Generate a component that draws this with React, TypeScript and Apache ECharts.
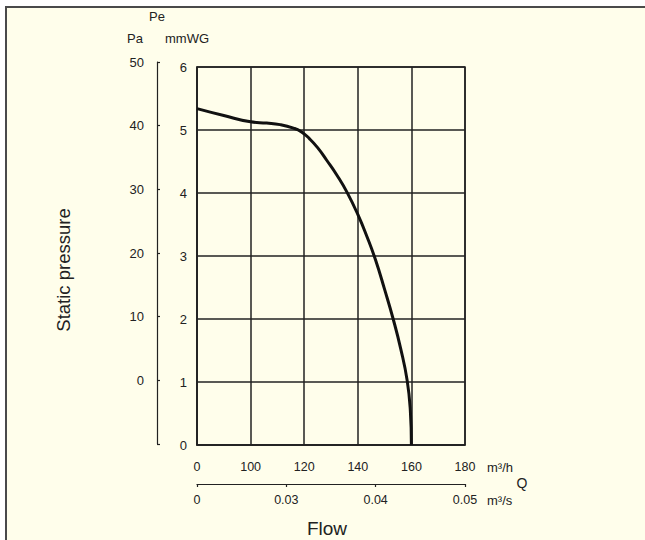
import React, { useEffect, useRef } from "react";
import * as echarts from "echarts";

// Flow positions in grid-column units (0..5 → 0,100,120,140,160,180 m³/h)
const flowTickLabels = ["0", "100", "120", "140", "160", "180"];
const flowSecTickLabels = ["0", "0.03", "0.04", "0.05"];
const mmwgTicks = [0, 1, 2, 3, 4, 5, 6];
const paTicks = [-10, 0, 10, 20, 30, 40, 50];

const flowIndex = [0, 0.5, 1.0, 1.3, 1.55, 1.8, 1.95, 2.1, 2.25, 2.42, 2.62, 2.8, 3.0, 3.17, 3.33, 3.5, 3.66, 3.8, 3.92, 3.98, 4.0];
const pressure = [5.34, 5.23, 5.13, 5.11, 5.085, 5.03, 4.97, 4.86, 4.72, 4.52, 4.27, 4.01, 3.66, 3.31, 2.94, 2.47, 2.0, 1.53, 1.03, 0.55, 0];

const FONT = "Liberation Sans, Arial, sans-serif";
const INK = "#222";

export default function App() {
  const ref = useRef<HTMLDivElement>(null);
  useEffect(() => {
    document.body.style.margin = "0";
    if (!ref.current) return;
    const chart = echarts.init(ref.current, undefined, { renderer: "svg" });
    const data = flowIndex.map((x, i) => [x, pressure[i]]);
    const txt = (text: string, x: number, y: number, size: number, align = "center", extra: any = {}) => ({
      type: "text", x, y, ...extra,
      style: { text, fill: INK, font: `${size}px ${FONT}`, align, verticalAlign: "middle" },
    });
    chart.setOption({
      animation: false,
      textStyle: { fontFamily: FONT },
      grid: [
        { left: 197, right: 180, top: 67, bottom: 95, show: true, borderColor: INK, borderWidth: 1.5, backgroundColor: "transparent" },
        { left: 157, width: 1, top: 62, bottom: 96 },
      ],
      xAxis: [
        {
          type: "value", gridIndex: 0, min: 0, max: 5, interval: 1,
          axisLine: { show: true, lineStyle: { color: INK, width: 1.5 } },
          axisTick: { show: false },
          splitLine: { show: true, lineStyle: { color: INK, width: 1.5 } },
          axisLabel: { margin: 15, fontSize: 12.5, color: INK, fontFamily: FONT, formatter: (v: number) => flowTickLabels[Math.round(v)] ?? "" },
        },
        {
          type: "value", gridIndex: 0, position: "bottom", offset: 39, min: 0, max: 3, interval: 1,
          axisLine: { show: true, lineStyle: { color: INK, width: 1.2 } },
          axisTick: { show: true, length: 3, inside: false, lineStyle: { color: INK, width: 1.2 } },
          splitLine: { show: false },
          axisLabel: { margin: 9, fontSize: 12.5, color: INK, fontFamily: FONT, formatter: (v: number) => flowSecTickLabels[Math.round(v)] ?? "" },
        },
        { type: "value", gridIndex: 1, show: false, min: 0, max: 1 },
      ],
      yAxis: [
        {
          type: "value", gridIndex: 0, min: mmwgTicks[0], max: mmwgTicks[mmwgTicks.length - 1], interval: 1,
          axisLine: { show: true, lineStyle: { color: INK, width: 1.5 } },
          axisTick: { show: false },
          splitLine: { show: true, lineStyle: { color: INK, width: 1.5 } },
          axisLabel: { margin: 10, fontSize: 13, color: INK, fontFamily: FONT },
        },
        {
          type: "value", gridIndex: 1, position: "left", min: paTicks[0], max: paTicks[paTicks.length - 1], interval: 10,
          axisLine: { show: true, lineStyle: { color: INK, width: 1.2 } },
          axisTick: { show: true, inside: true, length: 3, lineStyle: { color: INK, width: 1.2 } },
          splitLine: { show: false },
          axisLabel: { margin: 13, fontSize: 13, color: INK, fontFamily: FONT, formatter: (v: number) => (v < 0 ? "" : String(v)) },
        },
      ],
      series: [
        {
          type: "line", xAxisIndex: 0, yAxisIndex: 0, data, smooth: 0.5, symbol: "none",
          lineStyle: { color: "#111", width: 3 },
        },
      ],
      graphic: [
        txt("Pe", 157, 16, 13),
        txt("Pa", 135, 38, 13),
        txt("mmWG", 187, 38, 13),
        txt("m³/h", 487, 467, 13, "left"),
        txt("m³/s", 487, 500, 13, "left"),
        txt("Q", 522, 483, 14),
        txt("Flow", 327, 528, 19),
        txt("Static pressure", 63, 270, 18.5, "center", { rotation: Math.PI / 2 }),
      ],
    });
    return () => chart.dispose();
  }, []);
  return (
    <div style={{ position: "relative", width: 645, height: 540, background: "#fff", overflow: "hidden" }}>
      <div style={{ position: "absolute", left: 5, top: 6, right: 0, bottom: 0, background: "#fffeeb", borderLeft: "2px solid #4a4a4a", borderTop: "2px solid #4a4a4a" }} />
      <div ref={ref} style={{ position: "absolute", left: 0, top: 0, width: 645, height: 540 }} />
    </div>
  );
}
